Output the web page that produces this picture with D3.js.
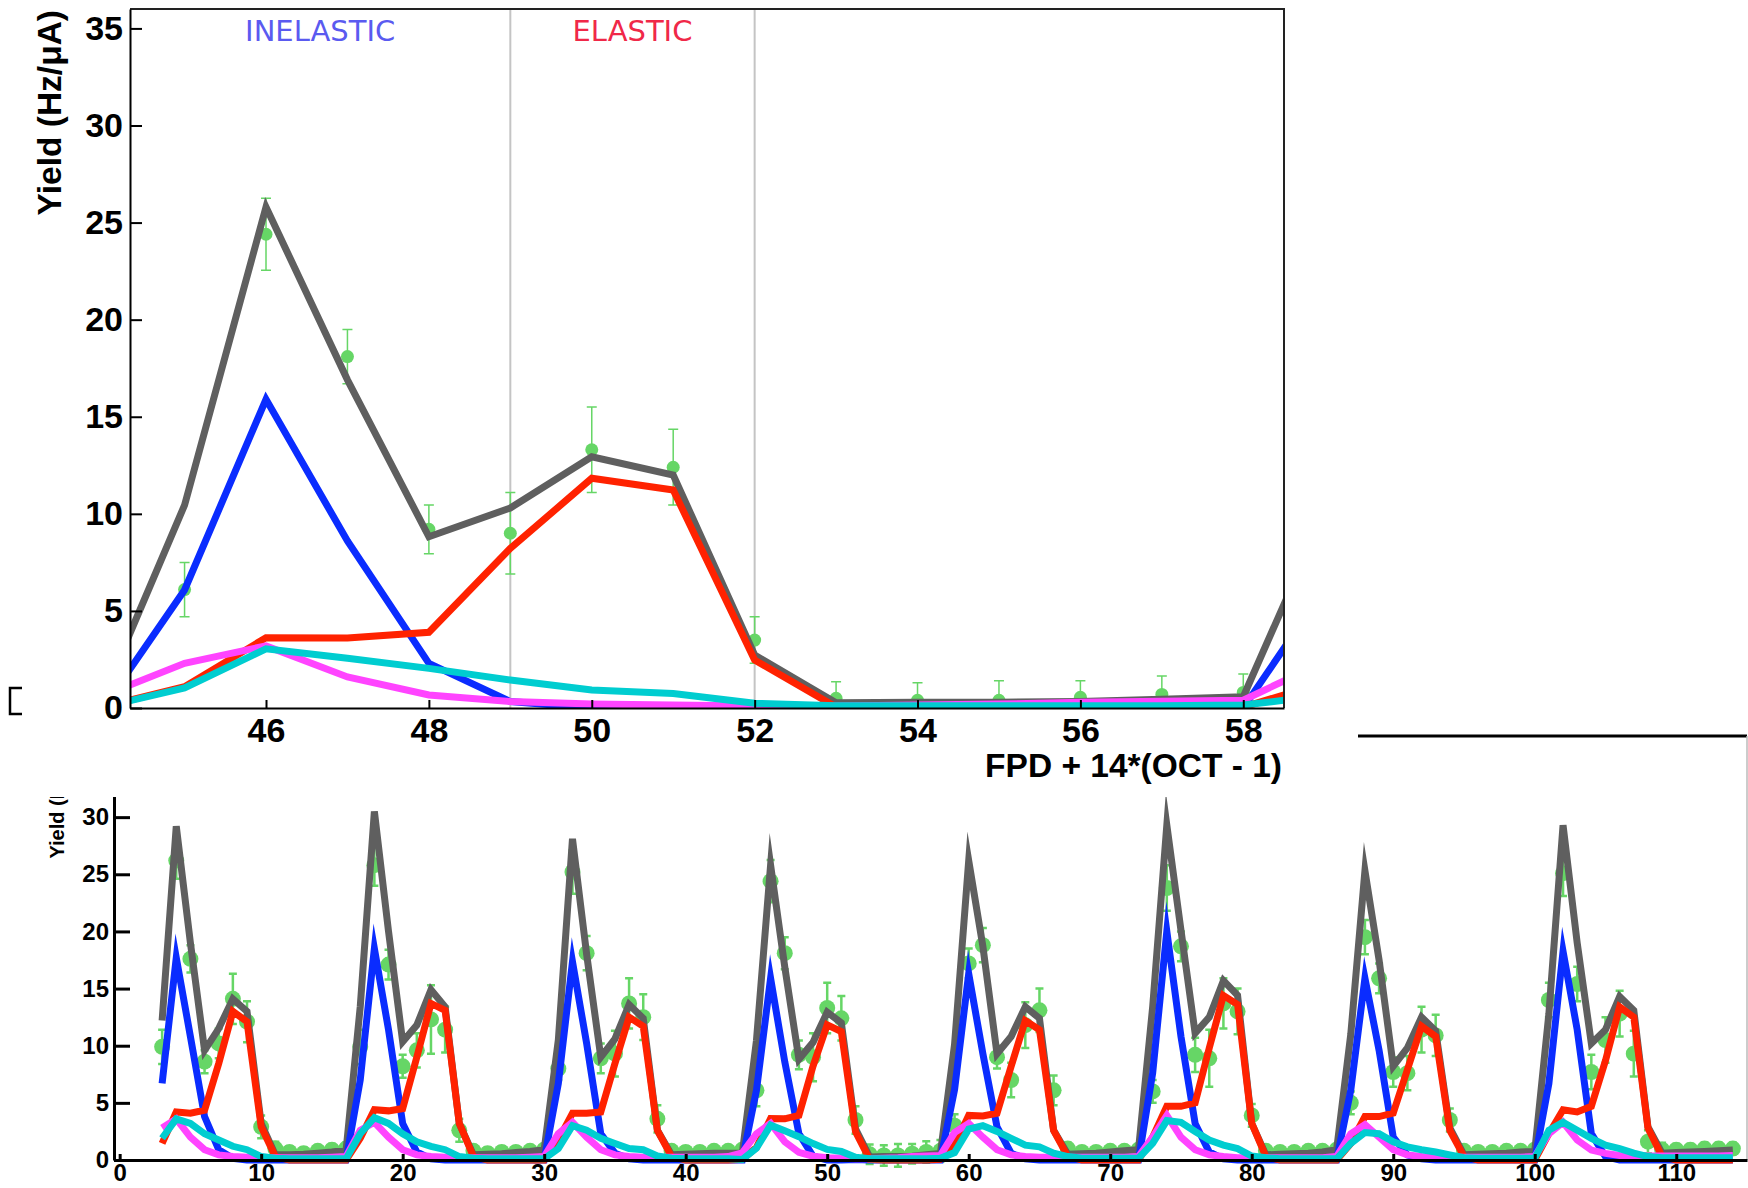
<!DOCTYPE html>
<html>
<head>
<meta charset="utf-8">
<script src="https://cdn.jsdelivr.net/npm/d3@7"></script>
<style>
    html, body { margin: 0; padding: 0; background: #fff; }
    svg { display: block; }
    text { font-family: "Liberation Sans", Arial, Helvetica, sans-serif; font-weight: bold; }
    .region-label { font-family: "DejaVu Sans", sans-serif; font-weight: normal; }
</style>
</head>
<body>
<svg id="chart" width="1748" height="1188"></svg>
<script>

// x = FPD + 14*(OCT - 1), octants 1..8, FPD 3..16
const fpdIndex = d3.range(3, 115);

// measured yield (green points) and its error
const yieldData = [
    9.9, 26.2, 17.6, 8.6, 10.2, 14.1, 12.1, 2.9, 1.0, 0.7, 0.6, 0.8, 0.9, 1.0,
    9.9, 25.8, 17.1, 8.2, 9.6, 12.3, 11.4, 2.6, 0.8, 0.6, 0.7, 0.7, 0.8, 0.9,
    8.0, 25.2, 18.1, 8.9, 9.3, 13.7, 12.5, 3.6, 0.8, 0.7, 0.7, 0.8, 0.8, 0.9,
    6.1, 24.4, 18.1, 9.2, 9.0, 13.3, 12.4, 3.5, 0.5, 0.4, 0.4, 0.55, 0.7, 0.8,
    3.0, 17.2, 18.8, 9.0, 7.0, 11.8, 13.1, 6.1, 1.0, 0.7, 0.7, 0.8, 0.8, 0.9,
    6.0, 23.8, 18.7, 9.2, 8.9, 13.7, 13.0, 3.9, 0.8, 0.7, 0.7, 0.8, 0.8, 0.9,
    5.0, 19.5, 15.9, 7.7, 7.6, 11.4, 10.9, 3.5, 0.8, 0.7, 0.7, 0.8, 0.8, 0.9,
    14.0, 25.1, 15.4, 7.7, 10.5, 12.8, 9.3, 1.6, 0.9, 0.9, 0.9, 1.0, 1.0, 1.0
];
const yieldErr = [
    1.5, 1.6, 1.2, 1.0, 1.3, 2.2, 1.8, 1.0, 0.6, 0.5, 0.5, 0.5, 0.5, 0.5,
    1.5, 1.8, 1.3, 1.0, 1.5, 3.0, 2.0, 1.0, 0.5, 0.5, 0.5, 0.5, 0.5, 0.5,
    1.0, 1.9, 1.5, 1.3, 2.0, 2.2, 2.0, 1.2, 0.5, 0.5, 0.5, 0.5, 0.5, 0.5,
    1.4, 1.85, 1.4, 1.25, 2.1, 2.2, 1.95, 1.2, 0.85, 0.9, 1.0, 0.85, 0.95, 0.95,
    1.0, 1.3, 1.5, 1.0, 1.5, 2.0, 1.9, 1.3, 0.5, 0.5, 0.5, 0.5, 0.5, 0.5,
    1.0, 2.0, 1.3, 1.5, 2.5, 2.2, 2.0, 1.0, 0.5, 0.5, 0.5, 0.5, 0.5, 0.5,
    1.0, 1.5, 1.3, 1.3, 1.5, 2.0, 1.8, 1.0, 0.5, 0.5, 0.5, 0.5, 0.5, 0.5,
    1.5, 2.0, 1.5, 1.5, 2.0, 2.0, 2.0, 1.0, 0.6, 0.5, 0.5, 0.5, 0.5, 0.5
];

// model curves
const modelTotal = [
    12.2, 29.2, 19.0, 9.6, 11.5, 14.1, 13.0, 3.2, 0.45, 0.45, 0.5, 0.6, 0.7, 0.85,
    13.4, 30.5, 20.0, 10.35, 11.8, 14.9, 13.4, 3.2, 0.45, 0.5, 0.55, 0.65, 0.75, 0.9,
    10.5, 28.1, 18.0, 9.0, 10.6, 13.6, 12.4, 2.6, 0.45, 0.5, 0.55, 0.6, 0.6, 0.6,
    10.45, 25.8, 16.9, 8.82, 10.3, 12.94, 12.0, 2.73, 0.27, 0.3, 0.3, 0.33, 0.45, 0.58,
    10.1, 26.2, 18.7, 9.3, 10.8, 13.4, 12.4, 2.6, 0.5, 0.55, 0.6, 0.7, 0.8, 0.9,
    13.4, 29.3, 20.1, 11.1, 12.5, 15.7, 14.4, 3.2, 0.45, 0.5, 0.55, 0.6, 0.7, 0.9,
    11.0, 25.3, 17.5, 8.2, 9.8, 12.5, 11.3, 2.8, 0.45, 0.5, 0.55, 0.6, 0.7, 0.75,
    12.8, 29.3, 19.0, 10.2, 11.4, 14.3, 13.1, 2.9, 0.6, 0.65, 0.7, 0.75, 0.8, 0.87
];
const modelInelastic = [
    6.7, 17.7, 10.8, 3.8, 0.9, 0.15, 0, 0, 0, 0, 0, 0, 0, 0,
    7.0, 18.5, 11.4, 3.2, 0.7, 0.1, 0, 0, 0, 0, 0, 0, 0, 0,
    6.7, 17.35, 10.2, 2.3, 0.6, 0.1, 0, 0, 0, 0, 0, 0, 0, 0,
    6.08, 15.9, 8.6, 2.3, 0.33, 0, 0, 0.05, 0, 0, 0, 0, 0, 0,
    6.15, 16.3, 9.3, 2.9, 0.6, 0.1, 0, 0, 0, 0, 0, 0, 0, 0,
    7.6, 20.0, 10.8, 3.2, 0.7, 0.1, 0, 0, 0, 0, 0, 0, 0, 0,
    6.1, 15.9, 9.6, 2.0, 0.45, 0.1, 0, 0, 0, 0, 0, 0, 0, 0,
    6.7, 18.25, 11.4, 2.3, 0.3, 0, 0, 0, 0, 0, 0, 0, 0, 0
];
const modelElastic = [
    1.45, 4.2, 4.1, 4.35, 8.45, 13.0, 12.1, 2.9, 0.3, 0, 0, 0, 0, 0,
    1.9, 4.4, 4.3, 4.5, 9.0, 13.7, 13.1, 3.2, 0.3, 0, 0, 0, 0, 0,
    1.75, 4.1, 4.1, 4.2, 8.45, 12.5, 11.7, 2.6, 0.3, 0, 0, 0, 0, 0.07,
    1.1, 3.62, 3.6, 3.9, 8.22, 11.83, 11.23, 2.47, 0.05, 0, 0, 0, 0, 0.05,
    1.3, 3.9, 3.85, 4.1, 8.2, 12.2, 11.4, 2.6, 0.3, 0, 0, 0, 0, 0,
    2.0, 4.7, 4.7, 5.0, 9.8, 14.4, 13.6, 3.2, 0.3, 0, 0, 0, 0, 0,
    1.45, 3.8, 3.8, 4.1, 7.9, 11.7, 10.8, 2.6, 0.3, 0, 0, 0, 0, 0,
    2.3, 4.4, 4.2, 4.7, 8.7, 13.4, 12.5, 2.8, 0.3, 0, 0, 0, 0, 0
];
const modelMagenta = [
    2.8, 3.6, 2.0, 0.9, 0.45, 0.3, 0.25, 0.25, 0.2, 0.2, 0.2, 0.2, 0.25, 0.3,
    2.6, 3.3, 2.0, 0.9, 0.45, 0.3, 0.25, 0.2, 0.2, 0.2, 0.2, 0.2, 0.25, 0.3,
    2.3, 3.3, 2.0, 0.9, 0.45, 0.3, 0.25, 0.25, 0.25, 0.25, 0.25, 0.25, 0.3, 0.63,
    2.3, 3.2, 1.6, 0.67, 0.33, 0.2, 0.15, 0.1, 0.1, 0.15, 0.2, 0.3, 0.35, 0.4,
    2.4, 3.2, 2.0, 0.9, 0.45, 0.3, 0.25, 0.25, 0.25, 0.25, 0.25, 0.25, 0.25, 0.3,
    2.0, 3.9, 2.0, 0.9, 0.45, 0.3, 0.2, 0.2, 0.2, 0.2, 0.2, 0.2, 0.2, 0.3,
    2.3, 3.1, 2.0, 0.9, 0.45, 0.3, 0.25, 0.25, 0.25, 0.25, 0.25, 0.25, 0.25, 0.3,
    2.3, 3.3, 1.75, 0.87, 0.58, 0.4, 0.35, 0.35, 0.35, 0.35, 0.35, 0.35, 0.35, 0.4
];
const modelCyan = [
    1.9, 3.6, 3.2, 2.3, 1.75, 1.2, 0.9, 0.3, 0.15, 0.1, 0.1, 0.1, 0.1, 0.1,
    2.3, 3.7, 3.2, 2.3, 1.6, 1.2, 0.9, 0.3, 0.15, 0.1, 0.1, 0.1, 0.1, 0.1,
    1.0, 3.0, 2.6, 1.9, 1.45, 1.0, 0.9, 0.35, 0.15, 0.1, 0.1, 0.1, 0.1, 0.05,
    1.03, 3.05, 2.56, 2.04, 1.44, 0.93, 0.75, 0.24, 0.12, 0.12, 0.12, 0.12, 0.12, 0.15,
    0.65, 2.7, 3.0, 2.5, 1.9, 1.3, 1.15, 0.6, 0.3, 0.15, 0.15, 0.15, 0.15, 0.15,
    1.45, 3.45, 3.3, 2.5, 1.75, 1.3, 1.0, 0.35, 0.2, 0.1, 0.1, 0.1, 0.1, 0.1,
    1.45, 2.4, 2.3, 1.6, 1.15, 0.9, 0.7, 0.44, 0.2, 0.15, 0.15, 0.15, 0.15, 0.15,
    2.6, 3.3, 2.6, 1.9, 1.3, 1.0, 0.6, 0.3, 0.2, 0.2, 0.2, 0.2, 0.2, 0.2
];

const regionEdges = [49, 52];
const zoomXTicks = [46, 48, 50, 52, 54, 56, 58];
const zoomYTicks = [0, 5, 10, 15, 20, 25, 30, 35];
const fullXTicks = [0, 10, 20, 30, 40, 50, 60, 70, 80, 90, 100, 110];
const fullYTicks = [0, 5, 10, 15, 20, 25, 30];

const colors = {total: '#5f5f5f', inelastic: '#0a2cff', elastic: '#ff2200', magenta: '#ff44ff', cyan: '#00cdd0'};
const green = '#66d666';

const svg = d3.select('#chart');

function styleAxis(g, fontSize, width) {
    g.attr('font-family', null).attr('font-size', fontSize);
    g.select('.domain').attr('stroke-width', width);
    g.selectAll('.tick line').attr('stroke-width', width);
}

let points = fpdIndex.map((x, i) => ({x: x, y: yieldData[i], e: yieldErr[i]}));
let series = [
    {key: 'total', values: modelTotal},
    {key: 'inelastic', values: modelInelastic},
    {key: 'elastic', values: modelElastic},
    {key: 'magenta', values: modelMagenta},
    {key: 'cyan', values: modelCyan}
];

function drawPoints(g, data, xs, ys, r, w, cap) {
    let bars = g.append('g').attr('stroke', green).attr('stroke-width', w);
    bars.selectAll('path').data(data).enter().append('path')
        .attr('fill', 'none')
        .attr('d', d => {
            let x = xs(d.x), y0 = ys(d.y - d.e), y1 = ys(d.y + d.e);
            return 'M' + x + ',' + y0 + 'V' + y1 +
                'M' + (x - cap) + ',' + y1 + 'H' + (x + cap) +
                'M' + (x - cap) + ',' + y0 + 'H' + (x + cap);
        });
    g.append('g').selectAll('circle').data(data).enter().append('circle')
        .attr('cx', d => xs(d.x)).attr('cy', d => ys(d.y)).attr('r', r)
        .attr('fill', green);
}

// xRange limits which FPD indices go into the path
function drawModels(g, xs, ys, width, xRange) {
    series.forEach(s => {
        let pts = fpdIndex.map((x, i) => [x, s.values[i]])
            .filter(p => p[0] >= xRange[0] && p[0] <= xRange[1]);
        let line = d3.line().x(p => xs(p[0])).y(p => ys(p[1]));
        g.append('path').datum(pts)
            .attr('d', line)
            .attr('fill', 'none')
            .attr('stroke', colors[s.key])
            .attr('stroke-width', width)
            .attr('stroke-miterlimit', 10);
    });
}

// ================= lower panel: all octants =================
let bx = d3.scaleLinear().domain([-0.4, 115]).range([114, 1747]);
let by = d3.scaleLinear().domain([0, 37.1]).range([1160, 736]);
let lower = svg.append('g');

lower.append('line').attr('x1', bx.range()[0]).attr('x2', bx.range()[1])
    .attr('y1', by.range()[1]).attr('y2', by.range()[1])
    .attr('stroke', '#000').attr('stroke-width', 3);
lower.append('line').attr('x1', bx.range()[1]).attr('x2', bx.range()[1])
    .attr('y1', by.range()[1]).attr('y2', by.range()[0])
    .attr('stroke', '#bbb').attr('stroke-width', 1.5);

drawPoints(lower, points, bx, by, 8, 2.5, 4);
drawModels(lower, bx, by, 7, [3, 114]);

lower.append('g').attr('transform', 'translate(0,' + by(0) + ')')
    .call(d3.axisBottom(bx).tickValues(fullXTicks).tickSize(-6).tickSizeOuter(0).tickPadding(4))
    .call(g => styleAxis(g, 24, 3));
lower.append('g').attr('transform', 'translate(' + bx.range()[0] + ',0)')
    .call(d3.axisLeft(by).tickValues(fullYTicks).tickSize(-16).tickSizeOuter(0).tickPadding(5))
    .call(g => styleAxis(g, 24, 3));

lower.append('text')
    .attr('transform', 'translate(64,' + by.range()[1] + ') rotate(-90)')
    .attr('text-anchor', 'end')
    .attr('font-size', 20)
    .text('Yield (Hz/\u03bcA)');

// the zoomed panel sits on top of the lower one
svg.append('rect').attr('x', 0).attr('y', 0).attr('width', 1358).attr('height', 797).attr('fill', '#fff');

// ================= upper panel: octant 4 =================
let tx = d3.scaleLinear().domain([44.33, 58.5]).range([130, 1284]);
let ty = d3.scaleLinear().domain([0, 36]).range([708, 9]);
let upper = svg.append('g');

upper.append('clipPath').attr('id', 'zoom-clip')
    .append('rect').attr('x', 130).attr('y', 9).attr('width', 1154).attr('height', 699);

upper.selectAll('line.region').data(regionEdges).enter().append('line')
    .attr('class', 'region')
    .attr('x1', d => tx(d)).attr('x2', d => tx(d))
    .attr('y1', ty.range()[1]).attr('y2', ty.range()[0])
    .attr('stroke', '#c4c4c4').attr('stroke-width', 2);

let zoomPoints = points.filter(d => d.x >= 45 && d.x <= 58);
let plot = upper.append('g').attr('clip-path', 'url(#zoom-clip)');
drawPoints(plot, zoomPoints, tx, ty, 6.5, 1.5, 5);
drawModels(plot, tx, ty, 7, [44, 59]);

upper.append('path')
    .attr('d', 'M' + tx.range()[0] + ',' + ty.range()[1] + 'H' + tx.range()[1] + 'V' + ty.range()[0])
    .attr('fill', 'none').attr('stroke', '#222').attr('stroke-width', 2);

upper.append('g').attr('transform', 'translate(0,' + ty(0) + ')')
    .call(d3.axisBottom(tx).tickValues(zoomXTicks).tickSize(-8).tickSizeOuter(0).tickPadding(10))
    .call(g => styleAxis(g, 34, 2));
upper.append('g').attr('transform', 'translate(' + tx.range()[0] + ',0)')
    .call(d3.axisLeft(ty).tickValues(zoomYTicks).tickSize(-12).tickSizeOuter(0).tickPadding(7))
    .call(g => styleAxis(g, 34, 2));

upper.append('text')
    .attr('x', tx.range()[1] - 2).attr('y', 777)
    .attr('text-anchor', 'end').attr('font-size', 33.5)
    .text('FPD + 14*(OCT - 1)');
upper.append('text')
    .attr('transform', 'translate(61,10) rotate(-90)')
    .attr('text-anchor', 'end').attr('font-size', 33.5)
    .text('Yield (Hz/\u03bcA)');

upper.append('text').attr('class', 'region-label')
    .attr('x', tx((tx.domain()[0] + regionEdges[0]) / 2)).attr('y', 41)
    .attr('text-anchor', 'middle').attr('font-size', 29).attr('fill', '#5a5af0')
    .text('INELASTIC');
upper.append('text').attr('class', 'region-label')
    .attr('x', tx((regionEdges[0] + regionEdges[1]) / 2)).attr('y', 41)
    .attr('text-anchor', 'middle').attr('font-size', 29).attr('fill', '#f02848')
    .text('ELASTIC');

// leftover bracket at the left edge of the inset
upper.append('path').attr('d', 'M22,688H10V714H22')
    .attr('fill', 'none').attr('stroke', '#000').attr('stroke-width', 2.5);

</script>
</body>
</html>
